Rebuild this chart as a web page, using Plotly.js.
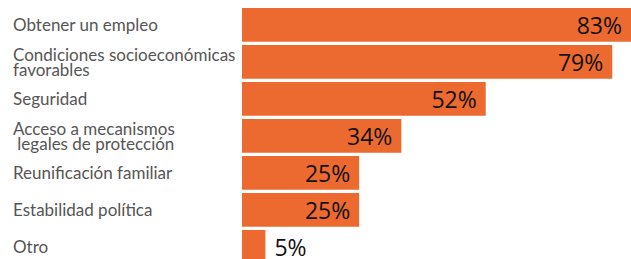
<!DOCTYPE html>
<html>
<head>
<meta charset="utf-8">
<script src="https://cdn.plot.ly/plotly-3.0.1.min.js"></script>
<style>html,body{margin:0;padding:0;background:#fff;}#chart{width:631px;height:259px;}</style>
</head>
<body>
<div id="chart"></div>
<script>
const categories = [
  "Obtener un empleo",
  "Condiciones socioeconómicas\nfavorables",
  "Seguridad",
  "Acceso a mecanismos\n legales de protección",
  "Reunificación familiar",
  "Estabilidad política",
  "Otro"
];
const values = [83, 79, 52, 34, 25, 25, 5];

const barColor = "#EC6A2F";
const textPositions = values.map(v => v >= 10 ? "inside" : "outside");
const labels = values.map((v, i) => textPositions[i] === "inside" ? v + "%\u00a0" : "\u00a0" + v + "%");

const trace = {
  type: "bar",
  orientation: "h",
  x: values,
  y: categories,
  marker: {color: barColor, line: {width: 0}},
  text: labels,
  textposition: textPositions,
  textangle: 0,
  constraintext: "none",
  insidetextanchor: "end",
  cliponaxis: false,
  textfont: {family: "Open Sans", size: 23, color: "#111111"},
  insidetextfont: {family: "Open Sans", size: 23, color: "#111111"},
  outsidetextfont: {family: "Open Sans", size: 23, color: "#111111"},
  hoverinfo: "none"
};

const W = 631, L = 242;
const plotW = W - L;
const labelX = (11 - L) / plotW;
const lineStep = 15;

const annotations = [];
categories.forEach(cat => {
  const lines = cat.split("\n");
  const n = lines.length;
  lines.forEach((ln, j) => {
    annotations.push({
      xref: "paper", yref: "y",
      x: labelX, y: cat,
      xanchor: "left", yanchor: "middle",
      text: ln.replace(/^ /, "\u00a0"),
      showarrow: false,
      align: "left",
      yshift: ((n - 1) / 2 - j) * lineStep,
      font: {family: "Lato", size: 17, color: "#555555"}
    });
  });
});

const layout = {
  width: 631, height: 259,
  margin: {l: L, r: 0, t: 0, b: 0, pad: 0},
  paper_bgcolor: "#ffffff",
  plot_bgcolor: "#ffffff",
  showlegend: false,
  bargap: 0.09,
  xaxis: {range: [0, 83], visible: false, fixedrange: true},
  yaxis: {type: "category", categoryorder: "array", categoryarray: categories,
          range: [6.33, -0.67], showticklabels: false, showgrid: false,
          zeroline: false, showline: false, ticks: "", fixedrange: true},
  annotations: annotations
};

Plotly.newPlot("chart", [trace], layout, {displayModeBar: false, staticPlot: true});
</script>
</body>
</html>
